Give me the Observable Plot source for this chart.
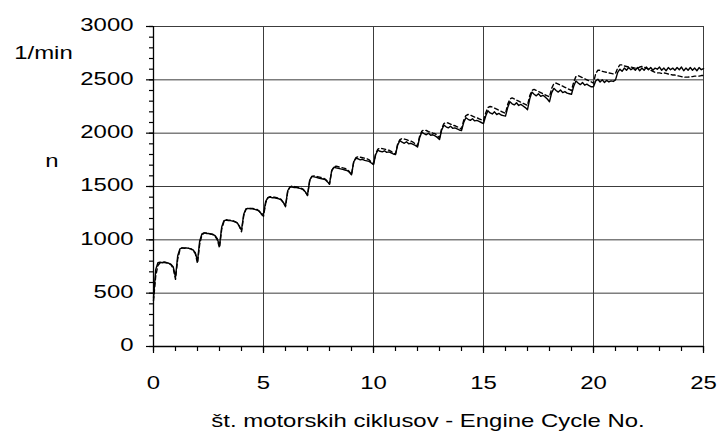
<!DOCTYPE html>
<html><head><meta charset="utf-8">
<script src="https://cdn.jsdelivr.net/npm/d3@7"></script>
<script src="https://cdn.jsdelivr.net/npm/@observablehq/plot@0.6"></script>
<style>body{margin:0;background:#fff} svg{display:block}</style>
</head><body><div id="chart"></div>
<script>
// engine speed n [1/min], sampled every 0.1 engine cycle, 0 .. 25
const sampleStep = 0.1;
const solidSeries = [
  455, 720, 785, 790, 785, 790, 785, 780, 770, 745,
  650, 850, 915, 925, 920, 925, 920, 915, 905, 880,
  800, 990, 1055, 1065, 1060, 1060, 1055, 1050, 1040, 1010,
  945, 1120, 1180, 1185, 1180, 1180, 1175, 1170, 1160, 1130,
  1090, 1240, 1290, 1295, 1290, 1290, 1285, 1280, 1270, 1245,
  1240, 1360, 1395, 1400, 1395, 1395, 1390, 1385, 1375, 1350,
  1320, 1460, 1495, 1495, 1490, 1490, 1485, 1480, 1470, 1450,
  1420, 1560, 1595, 1590, 1585, 1580, 1575, 1570, 1565, 1545,
  1525, 1650, 1680, 1675, 1670, 1665, 1660, 1655, 1650, 1635,
  1610, 1730, 1765, 1760, 1750, 1755, 1745, 1740, 1735, 1720,
  1705, 1800, 1840, 1830, 1825, 1835, 1820, 1825, 1815, 1805,
  1800, 1890, 1930, 1915, 1905, 1920, 1900, 1905, 1895, 1885,
  1870, 1960, 2010, 1995, 1985, 2000, 1980, 1985, 1975, 1960,
  1940, 2030, 2075, 2060, 2050, 2065, 2045, 2050, 2040, 2030,
  2025, 2100, 2145, 2130, 2120, 2135, 2115, 2120, 2110, 2100,
  2090, 2160, 2210, 2190, 2180, 2200, 2175, 2185, 2170, 2165,
  2160, 2240, 2295, 2275, 2265, 2285, 2260, 2270, 2255, 2240,
  2220, 2320, 2385, 2365, 2350, 2370, 2345, 2355, 2340, 2320,
  2295, 2380, 2420, 2400, 2385, 2405, 2380, 2390, 2375, 2370,
  2365, 2440, 2490, 2470, 2455, 2475, 2450, 2460, 2445, 2435,
  2435, 2490, 2505, 2480, 2500, 2475, 2495, 2480, 2490, 2485,
  2500, 2570, 2600, 2580, 2610, 2590, 2615, 2595, 2610, 2590,
  2615, 2585, 2610, 2590, 2620, 2595, 2615, 2590, 2610, 2600,
  2620, 2590, 2610, 2585, 2615, 2595, 2610, 2590, 2615, 2595,
  2620, 2585, 2610, 2590, 2615, 2590, 2610, 2585, 2615, 2595,
  2605
];
const dashedSeries = [
  430, 660, 760, 785, 790, 790, 785, 780, 765, 730,
  630, 820, 905, 925, 925, 925, 920, 915, 900, 870,
  780, 960, 1045, 1065, 1065, 1060, 1055, 1050, 1035, 1000,
  925, 1100, 1170, 1190, 1185, 1185, 1180, 1170, 1160, 1125,
  1075, 1225, 1285, 1300, 1295, 1295, 1290, 1285, 1270, 1240,
  1220, 1345, 1395, 1405, 1400, 1400, 1395, 1390, 1380, 1350,
  1310, 1450, 1495, 1505, 1500, 1495, 1490, 1485, 1475, 1450,
  1415, 1550, 1595, 1600, 1595, 1590, 1585, 1580, 1570, 1550,
  1520, 1645, 1685, 1690, 1685, 1680, 1675, 1670, 1660, 1640,
  1610, 1730, 1770, 1780, 1775, 1770, 1765, 1760, 1750, 1730,
  1710, 1810, 1850, 1860, 1855, 1850, 1845, 1840, 1830, 1815,
  1805, 1900, 1940, 1950, 1945, 1940, 1930, 1925, 1915, 1900,
  1880, 1975, 2020, 2030, 2025, 2015, 2010, 2000, 1995, 1980,
  1955, 2045, 2090, 2100, 2095, 2085, 2075, 2070, 2060, 2050,
  2040, 2120, 2165, 2175, 2170, 2160, 2150, 2145, 2135, 2125,
  2115, 2190, 2240, 2250, 2245, 2235, 2225, 2215, 2205, 2195,
  2185, 2270, 2320, 2330, 2320, 2310, 2300, 2290, 2280, 2270,
  2260, 2350, 2400, 2410, 2400, 2390, 2380, 2370, 2360, 2350,
  2340, 2420, 2465, 2470, 2460, 2450, 2440, 2430, 2420, 2410,
  2400, 2480, 2530, 2540, 2530, 2520, 2510, 2500, 2490, 2480,
  2470, 2560, 2590, 2590, 2580, 2575, 2570, 2565, 2560, 2555,
  2560, 2610, 2640, 2640, 2630, 2625, 2620, 2620, 2615, 2610,
  2610, 2620, 2625, 2620, 2610, 2600, 2590, 2580, 2570, 2565,
  2565, 2560, 2565, 2560, 2555, 2550, 2545, 2545, 2540, 2535,
  2530, 2525, 2525, 2525, 2530, 2530, 2535, 2535, 2535, 2540,
  2540
];
const xTicks = [0, 5, 10, 15, 20, 25];
const xMinorTicks = [0,1,2,3,4,5,6,7,8,9,10,11,12,13,14,15,16,17,18,19,20,21,22,23,24,25];
const yTicks = [0, 500, 1000, 1500, 2000, 2500, 3000];
const yMinorTicks = [0,100,200,300,400,500,600,700,800,900,1000,1100,1200,1300,1400,1500,1600,1700,1800,1900,2000,2100,2200,2300,2400,2500,2600,2700,2800,2900,3000];
const unitLabel = "1/min";
const yName = "n";
const xTitle = "št. motorskih ciklusov - Engine Cycle No.";

const toRows = (arr) => arr.map((v, i) => ({x: Math.round(i * sampleStep * 10) / 10, n: v}));
const solidData = toRows(solidSeries);
const dashedData = toRows(dashedSeries);

const gridStroke = "#3c3c3c";
const chart = Plot.plot({
  width: 717, height: 433,
  marginTop: 26, marginRight: 14, marginBottom: 87, marginLeft: 153,
  style: {fontFamily: "'Liberation Sans', Arial, sans-serif", fontSize: "18px", color: "#000", background: "#fff"},
  x: {domain: [0, 25]},
  y: {domain: [0, 3000]},
  marks: [
    Plot.gridX(xTicks, {stroke: gridStroke, strokeOpacity: 1, strokeWidth: 1}),
    Plot.gridY(yTicks, {stroke: gridStroke, strokeOpacity: 1, strokeWidth: 1}),
    // minor and major tick marks, drawn outward from the axes
    Plot.ruleX(xMinorTicks, {x: d => d, y1: 0, y2: 0, insetBottom: -5, stroke: "#000", strokeWidth: 1.2}),
    Plot.ruleX(xTicks, {x: d => d, y1: 0, y2: 0, insetBottom: -7, stroke: "#000", strokeWidth: 1.2}),
    Plot.ruleY(yMinorTicks, {y: d => d, x1: 0, x2: 0, insetLeft: -4, stroke: "#000", strokeWidth: 1.2}),
    Plot.ruleY(yTicks, {y: d => d, x1: 0, x2: 0, insetLeft: -7, stroke: "#000", strokeWidth: 1.2}),
    Plot.ruleY([0], {stroke: "#000", strokeWidth: 1.3}),
    Plot.ruleX([0], {stroke: "#000", strokeWidth: 1.3}),
    Plot.axisX(xTicks, {tickSize: 0, tickPadding: 30, fontSize: 18, label: null, fill: "#000", tickFormat: d => String(d)}),
    Plot.axisY(yTicks, {tickSize: 0, tickPadding: 20, fontSize: 18, label: null, dy: -1, fill: "#000", tickFormat: d => String(d)}),
    Plot.line(solidData, {x: "x", y: "n", stroke: "#000", strokeWidth: 1.4}),
    Plot.line(dashedData, {x: "x", y: "n", stroke: "#000", strokeWidth: 1.4, strokeDasharray: "4,3"})
  ]
});
document.getElementById("chart").appendChild(chart);

const svg = d3.select(chart);
svg.append("text").attr("class", "extra").attr("x", 43.5).attr("y", 59).attr("text-anchor", "middle").text(unitLabel);
svg.append("text").attr("class", "extra").attr("x", 52).attr("y", 167).attr("text-anchor", "middle").text(yName);
svg.append("text").attr("class", "extra").attr("x", 428).attr("y", 427.5).attr("text-anchor", "middle").text(xTitle);
svg.selectAll("text.extra").attr("font-size", 18).attr("fill", "#000");

// the reference lettering is horizontally stretched
const S = 1.33;
chart.querySelectorAll("text").forEach(t => {
  const ax = +(t.getAttribute("x") || 0);
  const tr = t.getAttribute("transform") || "";
  t.setAttribute("transform", `${tr} translate(${ax},0) scale(${S},1) translate(${-ax},0)`);
});
</script>
</body></html>
